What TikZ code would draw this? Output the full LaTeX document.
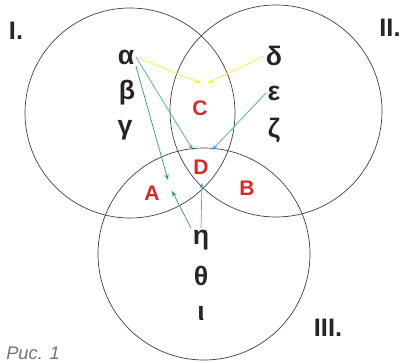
\documentclass[tikz,border=0pt]{standalone}
\usepackage{fontspec}
\setmainfont{Liberation Sans}
\usetikzlibrary{arrows.meta,positioning}
\definecolor{regred}{HTML}{D42A2A}
\definecolor{arryellow}{HTML}{F2EA50}
\definecolor{arrblue}{HTML}{4C9FD6}
\definecolor{arrgreen}{HTML}{2F9A72}
\definecolor{arrcyan}{HTML}{3AB0D0}

\tikzset{
  greek/.style={font=\bfseries\fontsize{19}{20}\selectfont, text=black!85, inner sep=1pt},
  region/.style={font=\bfseries\fontsize{15}{16}\selectfont, text=regred, inner sep=1pt},
  setlabel/.style={font=\bfseries\fontsize{18}{19}\selectfont, text=black!85, inner sep=1pt},
  ring/.style={draw=black!75, line width=0.5pt},
  arr/.style={-{Stealth[length=4pt,width=3pt]}, line width=0.5pt},
}

\begin{document}
\begin{tikzpicture}[x=0.025cm,y=-0.025cm]
\useasboundingbox (0,0) rectangle (401,362);

% the three sets
\draw[ring] (130,113) circle[radius=105];
\draw[ring] (276,111) circle[radius=106];
\draw[ring] (204,254) circle[radius=106];

\node[setlabel] (setI) at (16,31) {I.};
\node[setlabel] (setII) at (390,28) {II.};
\node[setlabel] (setIII) at (328,328) {III.};

% elements
\node[greek] (alpha) at (126,57) {α};
\node[greek] (beta) at (127,93) {β};
\node[greek] (gamma) at (125,130) {γ};
\node[greek] (delta) at (274,56) {δ};
\node[greek] (epsilon) at (274,93) {ε};
\node[greek] (zeta) at (274,130) {ζ};
\node[greek] (eta) at (201,240) {η};
\node[greek] (theta) at (201,276) {θ};
\node[greek] (iota) at (201,313) {ι};

% regions
\node[region] (C) at (200,108) {C};
\node[region] (D) at (201,167) {D};
\node[region] (A) at (152,193) {A};
\node[region] (B) at (247,188) {B};

% arrow ends
\coordinate (c1) at (201,83);
\coordinate (c2) at (208,83);
\coordinate (d1) at (193,150);
\coordinate (d2) at (212,150);
\coordinate (d3) at (202,183);
\coordinate (a1) at (168,180);
\coordinate (a2) at (172,191);

\draw[arr,arryellow] (alpha.east) -- (c1);
\draw[arr,arryellow] (delta.west) -- (c2);
\draw[arr,arrblue] (alpha.east) -- (d1);
\draw[arr,arrblue] (epsilon.west) -- (d2);
\draw[arr,arrgreen] (alpha.south east) -- (a1);
\draw[arr,arrgreen] (eta.north west) -- (a2);
\draw[arr,arrcyan] (eta.north) -- (d3);

\node[anchor=south west, text=black!55, font=\itshape\fontsize{13}{14}\selectfont, inner sep=0pt] (fig) at (6,360) {Рис. 1};
\end{tikzpicture}
\end{document}
